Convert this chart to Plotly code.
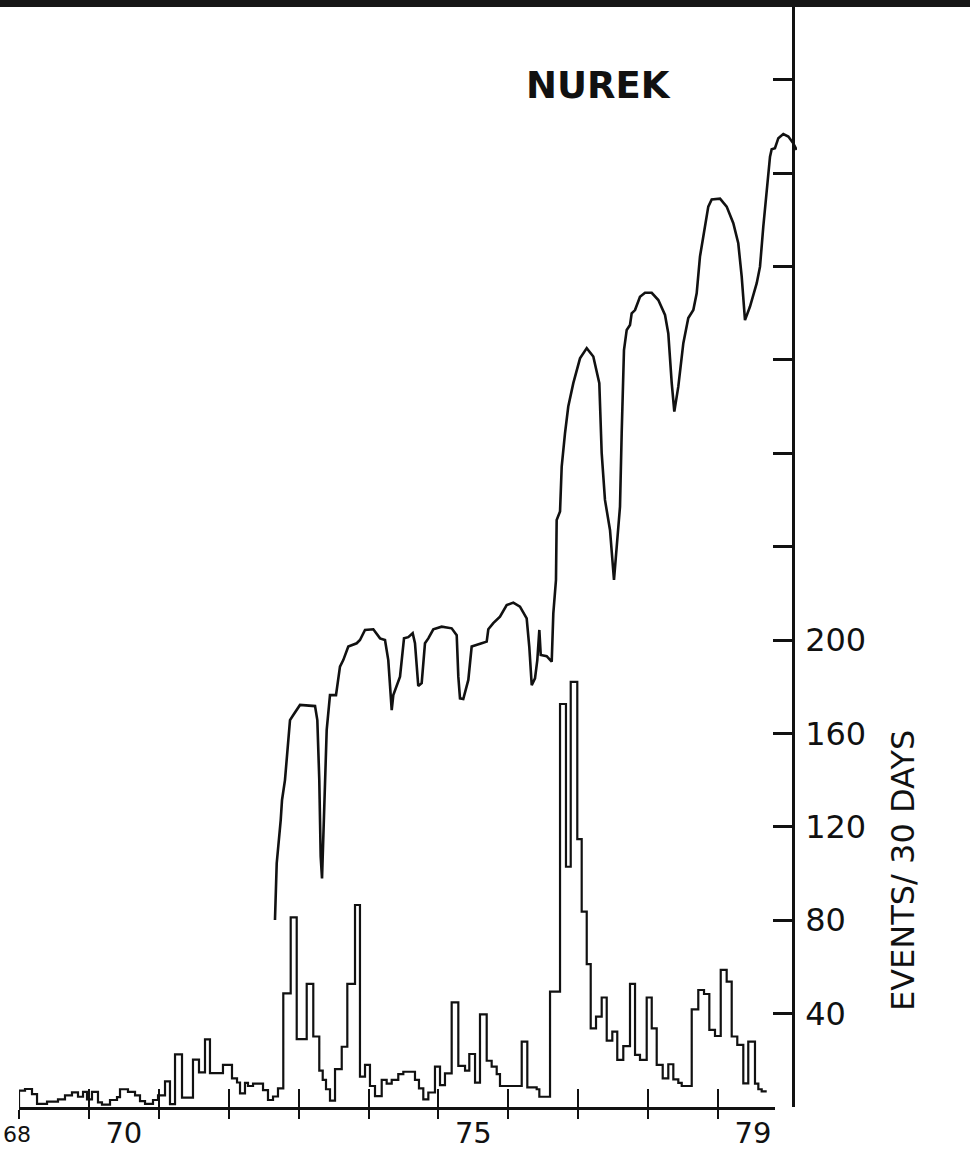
import plotly.graph_objects as go

# ---------------- data ----------------
# seismicity histogram (events / 30 days): step start times (decimal years) and values
hist_starts = [
    1969.000, 1969.086, 1969.186, 1969.258, 1969.401, 1969.558, 1969.658, 1969.758, 1969.844, 1969.916,
    1969.973, 1970.044, 1970.130, 1970.187, 1970.302, 1970.402, 1970.445, 1970.559, 1970.660, 1970.731,
    1970.803, 1970.917, 1970.989, 1971.089, 1971.160, 1971.232, 1971.332, 1971.489, 1971.575, 1971.661,
    1971.732, 1971.918, 1972.047, 1972.119, 1972.162, 1972.233, 1972.276, 1972.348, 1972.491, 1972.562,
    1972.634, 1972.705, 1972.781, 1972.887, 1972.973, 1973.116, 1973.210, 1973.296, 1973.345, 1973.392,
    1973.449, 1973.521, 1973.617, 1973.697, 1973.807, 1973.878, 1973.950, 1974.021, 1974.093, 1974.189,
    1974.260, 1974.332, 1974.426, 1974.498, 1974.665, 1974.722, 1974.784, 1974.856, 1974.951, 1975.023,
    1975.094, 1975.190, 1975.285, 1975.381, 1975.442, 1975.524, 1975.595, 1975.691, 1975.762, 1975.834,
    1975.881, 1976.192, 1976.272, 1976.406, 1976.444, 1976.597, 1976.740, 1976.825, 1976.893, 1976.987,
    1977.050, 1977.122, 1977.179, 1977.255, 1977.336, 1977.408, 1977.488, 1977.559, 1977.645, 1977.741,
    1977.813, 1977.884, 1977.980, 1978.052, 1978.123, 1978.209, 1978.289, 1978.361, 1978.432, 1978.481,
    1978.624, 1978.718, 1978.800, 1978.876, 1978.957, 1979.039, 1979.124, 1979.196, 1979.276, 1979.362,
    1979.433, 1979.529, 1979.577, 1979.625,
]
hist_end = 1979.697
hist_values = [
    7.0, 7.7, 5.5, 1.3, 2.3, 3.3, 5.0, 6.3, 4.4, 6.5,
    3.3, 6.5, 2.0, 1.0, 3.0, 4.2, 7.6, 6.5, 5.0, 2.5,
    1.3, 3.0, 5.0, 11.0, 1.2, 22.5, 4.0, 20.3, 14.8, 29.0,
    14.5, 18.0, 12.3, 10.5, 5.8, 10.3, 9.0, 10.0, 7.2, 3.0,
    4.5, 8.0, 48.7, 81.2, 29.1, 52.7, 30.2, 15.6, 11.6, 7.6,
    2.7, 16.2, 25.8, 52.7, 86.5, 13.0, 18.0, 9.0, 4.7, 11.6,
    10.0, 11.6, 14.1, 15.1, 11.6, 8.0, 3.3, 6.2, 17.3, 9.4,
    14.4, 44.8, 17.6, 15.6, 22.7, 10.4, 39.7, 19.8, 17.3, 14.1,
    9.0, 28.0, 8.4, 7.6, 4.4, 49.4, 172.6, 102.9, 182.1, 114.7,
    83.7, 61.2, 33.7, 38.7, 46.9, 28.4, 32.3, 20.2, 26.1, 52.7,
    22.3, 20.2, 46.9, 33.7, 18.0, 12.3, 18.3, 11.8, 10.3, 9.0,
    41.8, 50.1, 48.4, 33.0, 30.4, 58.7, 53.7, 30.2, 26.6, 10.1,
    28.0, 10.0, 7.6, 6.7,
]

# reservoir water level (plotted in the same vertical units as the chart)
wl_years = [
    1972.662, 1972.687, 1972.744, 1972.763, 1972.805, 1972.877, 1972.924, 1973.020, 1973.235, 1973.268,
    1973.296, 1973.316, 1973.335, 1973.363, 1973.402, 1973.449, 1973.535, 1973.592, 1973.639, 1973.711,
    1973.831, 1973.878, 1973.950, 1974.069, 1974.165, 1974.236, 1974.283, 1974.332, 1974.355, 1974.451,
    1974.508, 1974.569, 1974.632, 1974.665, 1974.712, 1974.761, 1974.808, 1974.856, 1974.927, 1975.047,
    1975.190, 1975.262, 1975.285, 1975.309, 1975.356, 1975.428, 1975.476, 1975.619, 1975.691, 1975.714,
    1975.785, 1975.881, 1975.977, 1976.072, 1976.167, 1976.263, 1976.300, 1976.335, 1976.382, 1976.415,
    1976.444, 1976.464, 1976.549, 1976.621, 1976.644, 1976.682, 1976.692, 1976.740, 1976.764, 1976.811,
    1976.858, 1976.930, 1977.026, 1977.122, 1977.216, 1977.302, 1977.336, 1977.383, 1977.455, 1977.512,
    1977.598, 1977.622, 1977.655, 1977.694, 1977.741, 1977.765, 1977.813, 1977.884, 1977.956, 1978.052,
    1978.146, 1978.242, 1978.289, 1978.338, 1978.375, 1978.432, 1978.504, 1978.575, 1978.647, 1978.695,
    1978.742, 1978.790, 1978.861, 1978.910, 1979.029, 1979.124, 1979.219, 1979.290, 1979.339, 1979.386,
    1979.458, 1979.554, 1979.601, 1979.648, 1979.697, 1979.744, 1979.768, 1979.815, 1979.863, 1979.934,
    1980.006, 1980.077, 1980.126,
]
wl_values = [
    80.1, 104.4, 122.9, 131.5, 140.0, 165.7, 167.9, 172.2, 171.7, 165.7,
    140.0, 107.2, 97.9, 125.8, 161.5, 176.4, 176.4, 188.6, 191.4, 197.2,
    198.6, 200.0, 204.3, 204.6, 200.7, 200.0, 191.4, 170.0, 176.4, 184.3,
    200.7, 201.2, 202.9, 198.6, 180.3, 181.5, 198.6, 200.7, 204.6, 205.7,
    205.0, 202.1, 184.3, 175.0, 174.7, 182.9, 197.2, 198.6, 199.3, 204.6,
    207.2, 210.0, 215.0, 216.0, 214.3, 209.3, 197.2, 180.7, 183.6, 191.4,
    204.3, 193.6, 193.1, 190.7, 211.4, 225.7, 251.4, 255.0, 274.3, 288.5,
    300.0, 310.0, 320.6, 325.0, 321.4, 310.0, 280.0, 260.0, 247.1, 225.7,
    257.1, 288.5, 324.2, 332.8, 334.9, 339.9, 341.3, 347.0, 348.7, 348.7,
    345.6, 339.2, 331.3, 310.0, 297.8, 308.5, 327.1, 337.9, 341.3, 348.5,
    364.2, 372.8, 385.6, 388.7, 389.0, 385.6, 378.5, 369.9, 355.6, 337.0,
    342.8, 352.8, 359.9, 377.0, 394.2, 407.0, 410.2, 410.6, 414.9, 416.7,
    415.6, 412.7, 409.9,
]

year_ticks = [1969, 1970, 1971, 1972, 1973, 1974, 1975, 1976, 1977, 1978, 1979]
year_label_pos = [1970.5, 1975.5, 1979.5]
year_labels = ["70", "75", "79"]
y_tickvals = [40, 80, 120, 160, 200, 240, 280, 320, 360, 400, 440]
y_ticktext = ["40", "80", "120", "160", "200", "", "", "", "", "", ""]

# ---------------- layout geometry (pixels) ----------------
W, H = 970, 1150
PX_PER_YEAR = 69.9
PX_PER_UNIT = 2.335
X0_PX = 19          # left end of time axis (1969.0)
XAX_END_PX = 775    # right end of drawn time axis
PLOT_END_PX = 797   # right edge of plotting area
Y0_PX = 1107        # baseline

FONT = "DejaVu Sans"
INK = "#111111"

hist_x = [hist_starts[0]] + hist_starts + [hist_end]
hist_y = [0] + hist_values + [hist_values[-1]]

fig = go.Figure()
fig.add_trace(go.Scatter(
    x=hist_x, y=hist_y, xaxis="x2", yaxis="y", mode="lines",
    line=dict(color=INK, width=2.2, shape="hv"), showlegend=False, hoverinfo="skip"))
fig.add_trace(go.Scatter(
    x=wl_years, y=wl_values, xaxis="x", yaxis="y", mode="lines",
    line=dict(color=INK, width=2.6), showlegend=False, hoverinfo="skip"))
# invisible helper so that the label-only axis is rendered
fig.add_trace(go.Scatter(
    x=year_ticks, y=[0] * len(year_ticks), xaxis="x3", yaxis="y", mode="markers",
    marker=dict(opacity=0, size=1), showlegend=False, hoverinfo="skip"))

r_main = [1969.0, 1969.0 + (PLOT_END_PX - X0_PX) / PX_PER_YEAR]
r_axis = [1969.0, 1969.0 + (XAX_END_PX - X0_PX) / PX_PER_YEAR]
dom_main = [X0_PX / W, PLOT_END_PX / W]
dom_axis = [X0_PX / W, XAX_END_PX / W]
y_dom = [(H - Y0_PX) / H, 1.0]
y_range = [0, Y0_PX / PX_PER_UNIT]

common_x = dict(showgrid=False, zeroline=False, fixedrange=True)

fig.update_layout(
    width=W, height=H,
    margin=dict(l=0, r=0, t=0, b=0),
    paper_bgcolor="white", plot_bgcolor="rgba(0,0,0,0)",
    font=dict(family=FONT, color=INK),
    # curve axis: also carries the upward half of the year ticks
    xaxis=dict(domain=dom_main, range=r_main, anchor="y", showline=False,
               ticks="inside", ticklen=18, tickwidth=2, tickcolor=INK,
               tickvals=year_ticks, showticklabels=False, **common_x),
    # histogram axis: drawn axis line plus downward half of the ticks
    xaxis2=dict(domain=dom_axis, range=r_axis, anchor="y", showline=True, linecolor=INK,
                linewidth=2.5, ticks="outside", ticklen=9, tickwidth=2, tickcolor=INK,
                tickvals=year_ticks, showticklabels=False, **common_x),
    # year labels centred within the years
    xaxis3=dict(overlaying="x2", range=r_axis, anchor="y", showline=False, ticks="",
                tickvals=year_label_pos, ticktext=year_labels,
                tickfont=dict(family=FONT, size=29, color=INK), ticklabelstandoff=6, **common_x),
    yaxis=dict(domain=y_dom, range=y_range, anchor="free", position=793 / W, side="right",
               showline=True, linecolor=INK, linewidth=2.5, ticks="inside", ticklen=19,
               tickwidth=2.5, tickcolor=INK, tickvals=y_tickvals, ticktext=y_ticktext,
               tickfont=dict(family=FONT, size=32, color=INK), ticklabelstandoff=4,
               showgrid=False, zeroline=False, fixedrange=True),
    shapes=[dict(type="rect", xref="paper", yref="paper", x0=0, x1=1, y0=1 - 7 / H, y1=1,
                 fillcolor="#161616", line=dict(width=0), layer="above")],
    annotations=[
        dict(text="<b>NUREK</b>", x=598 / W, y=1 - 85 / H, xref="paper", yref="paper",
             showarrow=False, xanchor="center", yanchor="middle",
             font=dict(family=FONT, size=37, color=INK)),
        dict(text="EVENTS/ 30 DAYS", x=903 / W, y=1 - 871 / H, xref="paper", yref="paper",
             showarrow=False, textangle=-90, xanchor="center", yanchor="middle",
             font=dict(family=FONT, size=32, color=INK)),
        dict(text="68", x=1 / W, y=1 - 1134 / H, xref="paper", yref="paper",
             showarrow=False, xanchor="left", yanchor="middle",
             font=dict(family=FONT, size=22, color=INK)),
    ],
)

fig.write_html("out.html", config={"displayModeBar": False},
               post_script="document.body.style.margin='0';")
